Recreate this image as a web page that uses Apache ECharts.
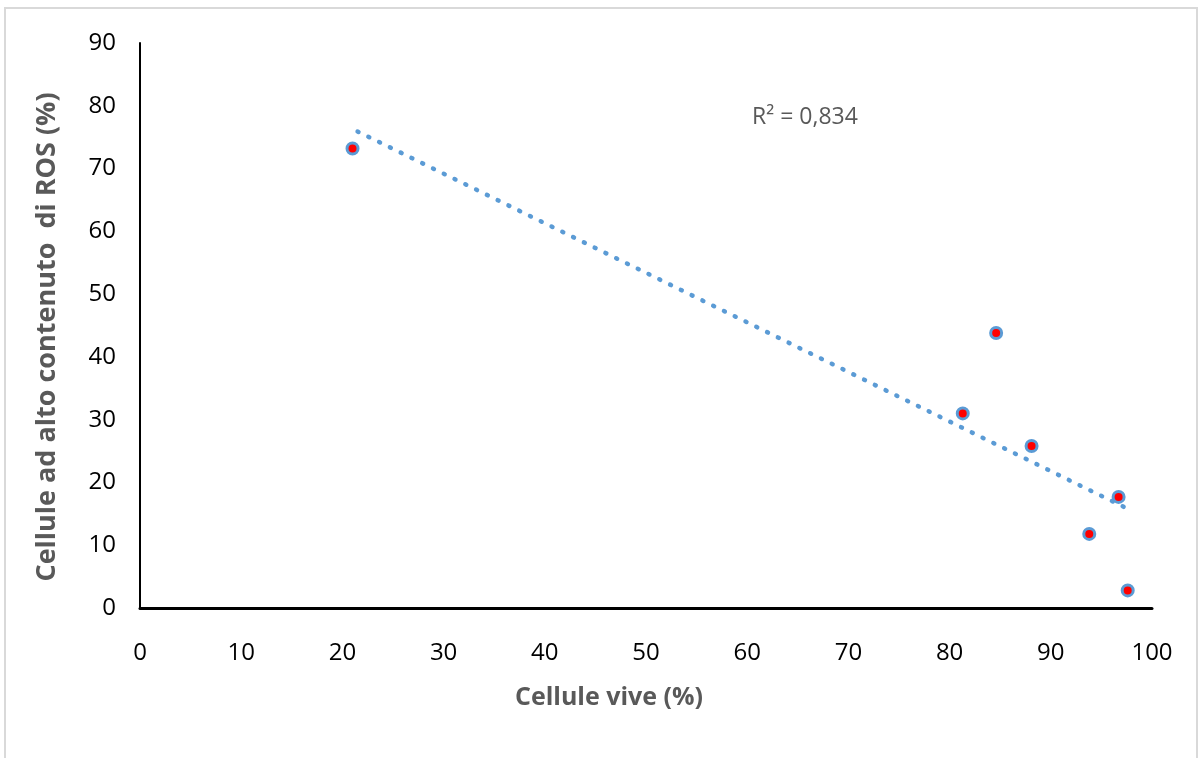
<!DOCTYPE html>
<html>
<head>
<meta charset="utf-8">
<script src="https://cdn.jsdelivr.net/npm/echarts@6/dist/echarts.min.js"></script>
<style>
  html, body { margin: 0; padding: 0; background: #ffffff; }
  #chart { width: 1203px; height: 758px; }
</style>
</head>
<body>
<div id="chart"></div>
<script>
// Measured samples: live cells (%) vs. cells with high ROS content (%)
const liveCells = [21.0, 81.3, 84.6, 88.1, 93.8, 96.7, 97.6];
const highRos   = [73.2, 31.0, 43.8, 25.8, 11.8, 17.7, 2.8];

// Linear trend line endpoints
const trendX = [21.5, 97.6];
const trendY = [75.9, 15.8];

const xTicks = { min: 0, max: 100, step: 10 };
const yTicks = { min: 0, max: 90, step: 10 };

const xTitle = 'Cellule vive (%)';
const yTitle = 'Cellule ad alto contenuto  di ROS (%)';
const r2Label = 'R² = 0,834';

const FONT = '"Open Sans", "Noto Sans", sans-serif';
const TITLE_GRAY = '#595959';
const BLUE = '#5B9BD5';

const points = liveCells.map((x, i) => [x, highRos[i]]);
const trend = trendX.map((x, i) => [x, trendY[i]]);

const chart = echarts.init(document.getElementById('chart'), null, { renderer: 'canvas' });

chart.setOption({
  backgroundColor: '#ffffff',
  animation: false,
  grid: { left: 140, right: 51, top: 43, bottom: 150, containLabel: false },
  xAxis: {
    type: 'value',
    min: xTicks.min, max: xTicks.max, interval: xTicks.step,
    axisLine: { show: true, onZero: false, lineStyle: { color: '#000000', width: 3 } },
    axisTick: { show: false },
    splitLine: { show: false },
    axisLabel: { color: '#000000', fontFamily: FONT, fontSize: 24, margin: 33 }
  },
  yAxis: {
    type: 'value',
    min: yTicks.min, max: yTicks.max, interval: yTicks.step,
    axisLine: { show: true, onZero: false, lineStyle: { color: '#000000', width: 2 } },
    axisTick: { show: false },
    splitLine: { show: false },
    axisLabel: { color: '#000000', fontFamily: FONT, fontSize: 24, margin: 24 }
  },
  graphic: [
    {
      type: 'rect', silent: true, z: -1,
      shape: { x: 5, y: 8, width: 1192, height: 760 },
      style: { fill: 'none', stroke: '#d9d9d9', lineWidth: 2 }
    },
    {
      type: 'text', silent: true,
      x: 609, y: 698,
      style: {
        text: xTitle, fill: TITLE_GRAY, font: 'bold 25px ' + FONT,
        align: 'center', verticalAlign: 'middle'
      }
    },
    {
      type: 'text', silent: true,
      x: 47, y: 337, rotation: Math.PI / 2,
      style: {
        text: yTitle, fill: TITLE_GRAY, font: 'bold 27px ' + FONT,
        align: 'center', verticalAlign: 'middle'
      }
    },
    {
      type: 'text', silent: true,
      x: 752, y: 117,
      style: {
        text: r2Label, fill: TITLE_GRAY, font: '23px ' + FONT,
        align: 'left', verticalAlign: 'middle'
      }
    }
  ],
  series: [
    {
      name: 'Trend',
      type: 'line',
      data: trend,
      symbol: 'none',
      silent: true,
      z: 1,
      lineStyle: { color: BLUE, width: 4.5, type: [1, 11], cap: 'round' }
    },
    {
      name: 'Campioni',
      type: 'scatter',
      data: points,
      symbol: 'circle',
      symbolSize: 11,
      z: 2,
      itemStyle: { color: '#ff0000', borderColor: BLUE, borderWidth: 3, opacity: 1 }
    }
  ]
});
</script>
</body>
</html>
